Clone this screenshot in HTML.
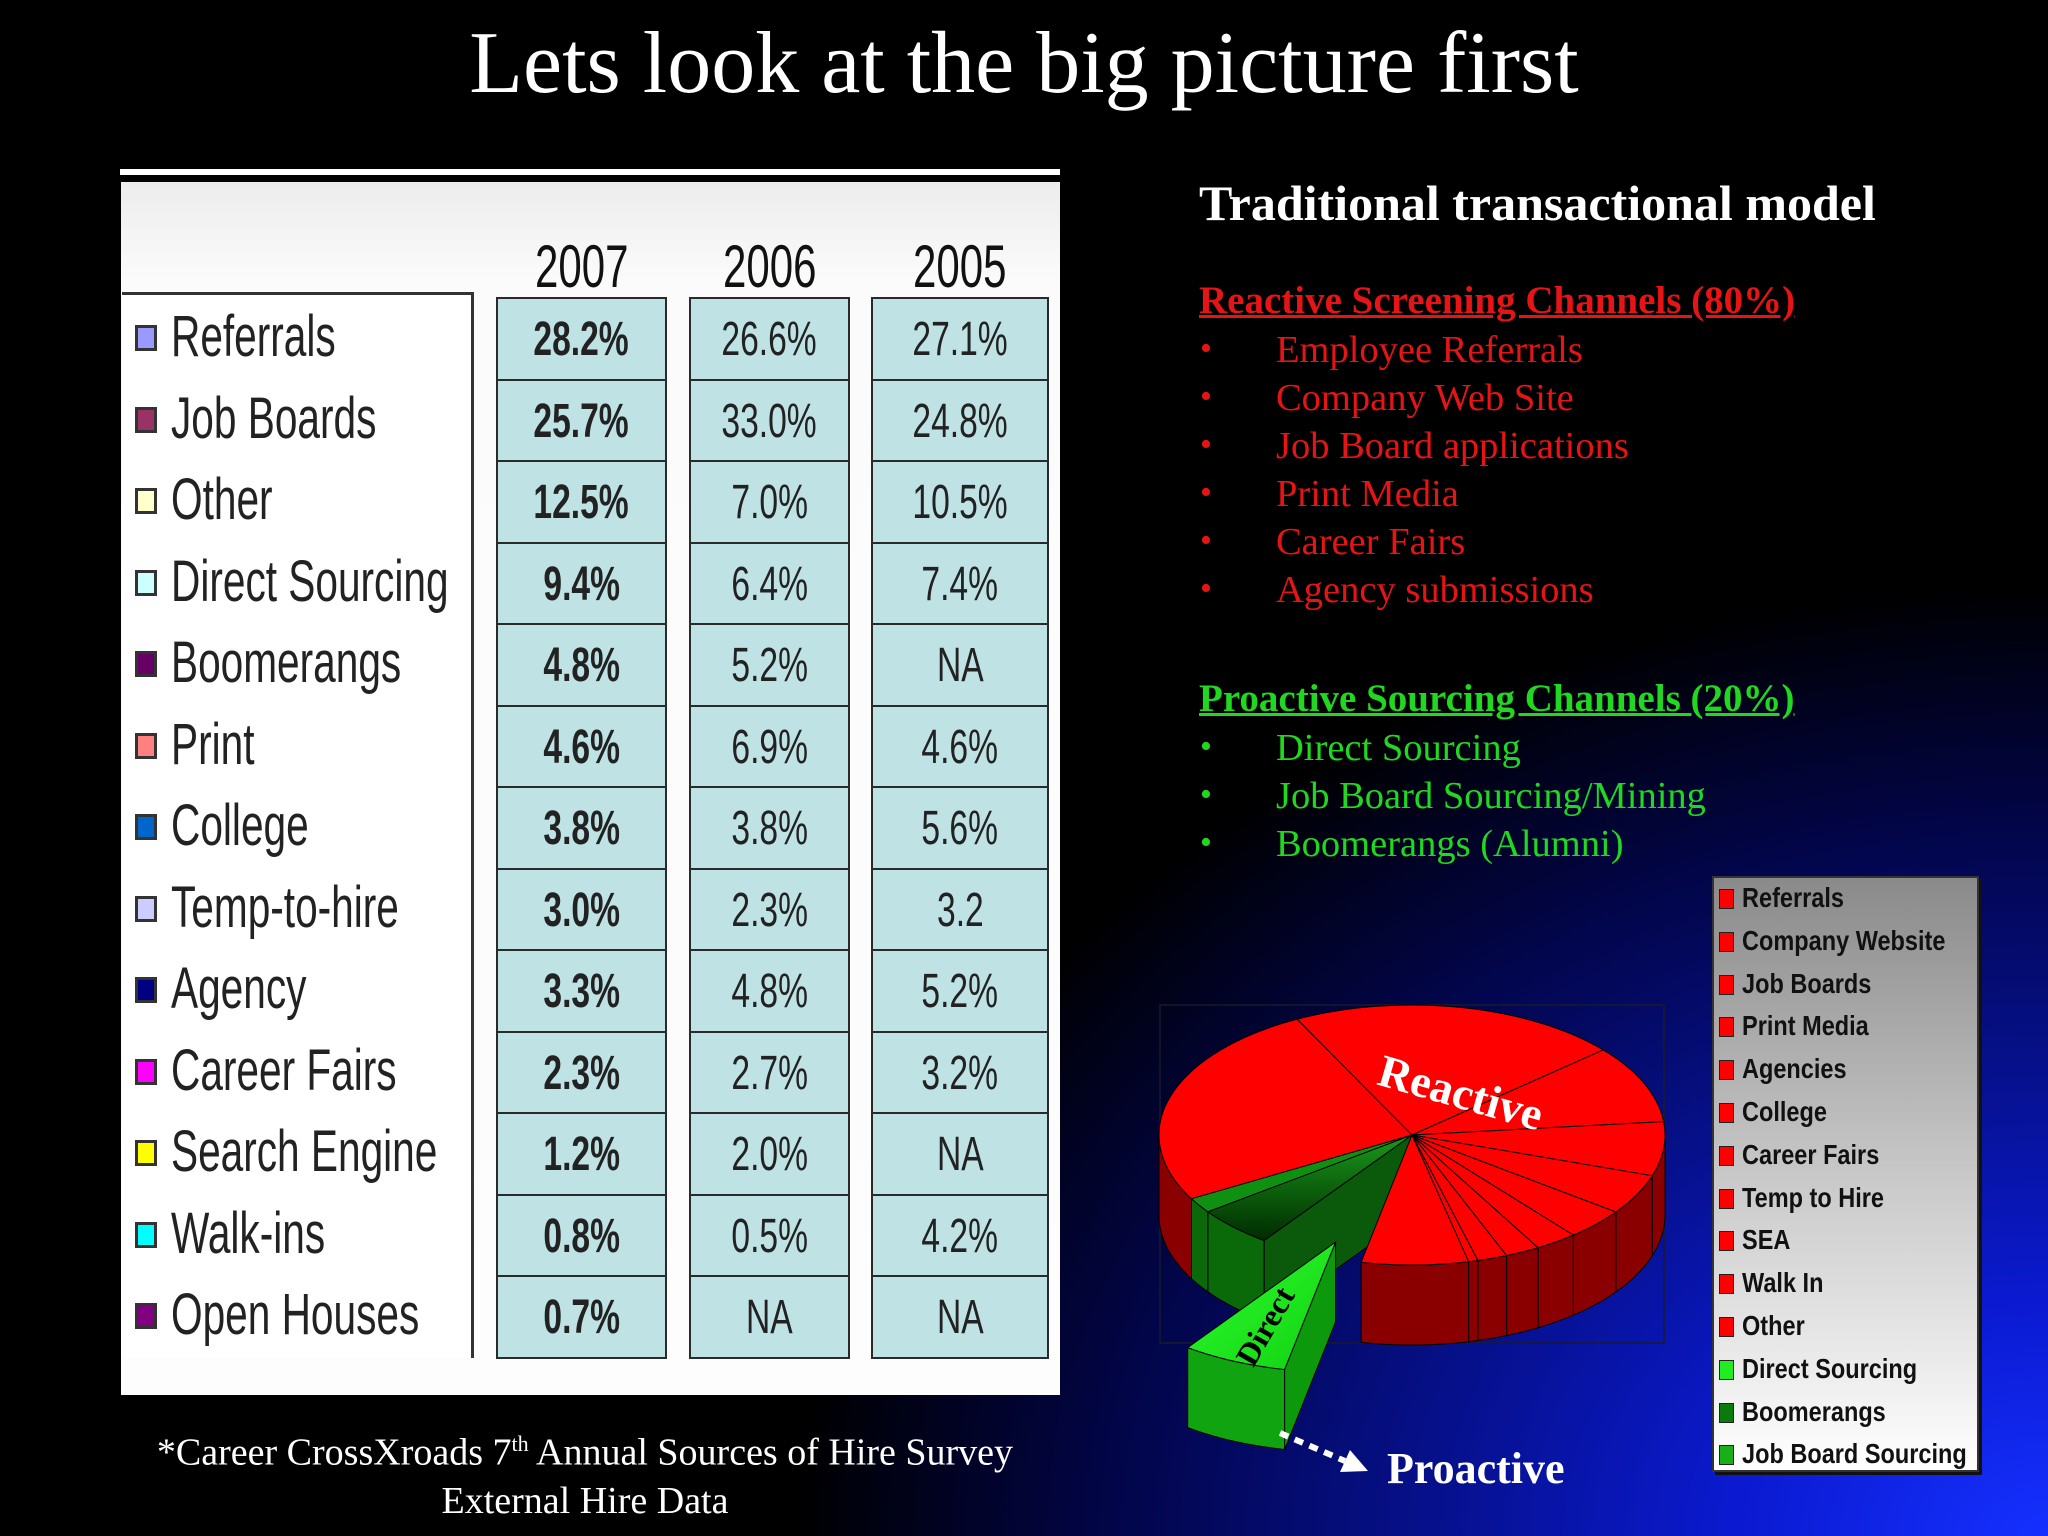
<!DOCTYPE html>
<html><head><meta charset="utf-8">
<style>
html,body{margin:0;padding:0;}
body{width:2048px;height:1536px;position:relative;overflow:hidden;background:#000;font-family:"Liberation Serif",serif;}
#bg{position:absolute;left:0;top:0;width:2048px;height:1536px;background:radial-gradient(ellipse 1250px 950px at 100% 100%,#1530ff 0%,#0b1ad0 25%,#06108a 50%,#020548 75%,#000 100%);}
.abs{position:absolute;}
.title{left:0;width:2048px;top:14px;text-align:center;color:#fff;font-size:88px;line-height:100px;}
.tbl-img{left:121px;top:182px;width:939px;height:1213px;background:linear-gradient(#ececec,#fbfbfb 8%,#fdfdfd);}
.topbar{left:120px;top:169px;width:940px;height:6px;background:#fff;}
.lbox{left:122px;top:292px;width:352px;height:1066px;border-top:3px solid #333;border-right:3px solid #333;background:#fff;box-sizing:border-box;}
.lab{font-family:"Liberation Sans",sans-serif;font-size:58px;color:#222;white-space:nowrap;transform:scaleX(0.7);transform-origin:0 50%;line-height:60px;}
.sw{width:22px;height:26px;border:3px solid #333;box-sizing:border-box;}
.cell{background:#bfe2e4;border:2px solid #2a2a2a;box-sizing:border-box;text-align:center;}
.cell span,.hdr span{display:inline-block;font-family:"Liberation Sans",sans-serif;transform:scaleX(0.7);}
.hdr{text-align:center;color:#111;}
.rt{color:#fff;font-weight:bold;font-size:50px;white-space:nowrap;}
.red{color:#e61414;}
.grn{color:#20d820;}
.h2{font-weight:bold;font-size:39px;text-decoration:underline;white-space:nowrap;}
.it{font-size:38.5px;white-space:nowrap;}
.bul{font-size:34px;}
.leg{left:1712px;top:876px;width:267px;height:596px;background:linear-gradient(#8a8a8a,#c8c8c8 50%,#fff);border:2px solid #333;box-sizing:border-box;box-shadow:3px 3px 0 #111;}
.li{font-family:"Liberation Sans",sans-serif;font-weight:bold;font-size:28px;color:#111;white-space:nowrap;line-height:32px;transform:scaleX(0.84);transform-origin:0 50%;}
.foot{left:60px;width:1050px;text-align:center;color:#fff;font-size:38px;line-height:48px;}
</style></head>
<body>
<div id="bg"></div>
<div class="abs title">Lets look at the big picture first</div>

<div class="abs topbar"></div>
<div class="abs tbl-img"></div>
<div class="abs lbox"></div>
<div id="table-layer"></div>

<div class="abs foot" style="top:1420px">*Career CrossXroads 7<sup style="font-size:22px">th</sup> Annual Sources of Hire Survey<br>External Hire Data</div>

<div class="abs rt" style="left:1199px;top:174px">Traditional transactional model</div>
<div class="abs h2 red" style="left:1199px;top:278px">Reactive Screening Channels (80%)</div>
<div id="bul-layer"></div>
<div class="abs h2 grn" style="left:1199px;top:676px">Proactive Sourcing Channels (20%)</div>

<svg class="abs" style="left:0;top:0" width="2048" height="1536" viewBox="0 0 2048 1536">
<defs>
<linearGradient id="gJ" x1="0" y1="0" x2="0" y2="1"><stop offset="0" stop-color="#1a9a1a"/><stop offset="1" stop-color="#002a00"/></linearGradient>
<linearGradient id="gD" x1="0" y1="0" x2="1" y2="1"><stop offset="0" stop-color="#30ff30"/><stop offset="1" stop-color="#10d010"/></linearGradient>
</defs>
<rect x="1160" y="1005" width="504" height="338" fill="none" stroke="#1a1a2a" stroke-width="1.5"/>
<g id="pie"></g>
<text x="1461" y="1108" transform="rotate(16 1461 1092)" text-anchor="middle" fill="#fff" font-family="Liberation Serif,serif" font-weight="bold" font-size="46">Reactive</text>
<text x="1265" y="1337" transform="rotate(-60 1265 1326)" text-anchor="middle" fill="#000" font-family="Liberation Serif,serif" font-weight="bold" font-size="32">Direct</text>
<line x1="1280" y1="1433" x2="1345" y2="1461" stroke="#fff" stroke-width="6" stroke-dasharray="9 7"/>
<polygon points="1368,1471 1340,1472 1350,1450" fill="#fff"/>
<text x="1387" y="1483" fill="#fff" font-family="Liberation Serif,serif" font-weight="bold" font-size="44">Proactive</text>
</svg>

<div class="abs leg"></div>
<div id="leg-layer"></div>

<script>
// ---- table data ----
const rowLabels=["Referrals","Job Boards","Other","Direct Sourcing","Boomerangs","Print","College","Temp-to-hire","Agency","Career Fairs","Search Engine","Walk-ins","Open Houses"];
const swatchColors=["#9999ff","#993366","#ffffcc","#ccffff","#660066","#ff8080","#0066cc","#ccccff","#000080","#ff00ff","#ffff00","#00ffff","#800080"];
const years=["2007","2006","2005"];
const v2007=["28.2%","25.7%","12.5%","9.4%","4.8%","4.6%","3.8%","3.0%","3.3%","2.3%","1.2%","0.8%","0.7%"];
const v2006=["26.6%","33.0%","7.0%","6.4%","5.2%","6.9%","3.8%","2.3%","4.8%","2.7%","2.0%","0.5%","NA"];
const v2005=["27.1%","24.8%","10.5%","7.4%","NA","4.6%","5.6%","3.2","5.2%","3.2%","NA","4.2%","NA"];
// ---- bullets ----
const reactiveItems=["Employee Referrals","Company Web Site","Job Board applications","Print Media","Career Fairs","Agency submissions"];
const proactiveItems=["Direct Sourcing","Job Board Sourcing/Mining","Boomerangs (Alumni)"];
// ---- pie data (clockwise from start angle) ----
const pieNames=["Direct Sourcing","Job Board Sourcing","Boomerangs","Referrals","Company Website","Job Boards","Print Media","Agencies","College","Career Fairs","Temp to Hire","SEA","Walk In","Other"];
const pieValues=[6.7,5.0,1.9,25.6,21.1,9.7,6.7,5.0,3.9,2.7,2.2,1.9,0.6,6.8];
const pieGroup=["g","g","g","r","r","r","r","r","r","r","r","r","r","r"];
const legendNames=["Referrals","Company Website","Job Boards","Print Media","Agencies","College","Career Fairs","Temp to Hire","SEA","Walk In","Other","Direct Sourcing","Boomerangs","Job Board Sourcing"];
const legendColors=["#ff0000","#ff0000","#ff0000","#ff0000","#ff0000","#ff0000","#ff0000","#ff0000","#ff0000","#ff0000","#ff0000","#20ee20","#0a7a0a","#18b018"];

const tl=document.getElementById('table-layer');
function mk(parent,cls,css,html){const d=document.createElement('div');d.className='abs '+cls;d.style.cssText=css;if(html!==undefined)d.innerHTML=html;parent.appendChild(d);return d;}
const colX=[496,689,871],colW=[171,161,178];
const rowTop=297,rowH=81.5;
years.forEach((y,j)=>{
  const h=mk(tl,'hdr',`left:${colX[j]}px;top:232px;width:${colW[j]}px;height:70px;font-size:60px;line-height:70px;`,`<span>${y}</span>`);
  
  
});
const cols=[v2007,v2006,v2005];
rowLabels.forEach((lab,i)=>{
  const top=rowTop+i*rowH;
  const s=mk(tl,'sw',`left:135px;top:${top+28}px;background:${swatchColors[i]};`);
  
  
  const t=mk(tl,'lab',`left:171px;top:${top+10}px;`,lab);
  
  
  cols.forEach((arr,j)=>{
    const c=mk(tl,'cell',`left:${colX[j]}px;top:${top}px;width:${colW[j]}px;height:${rowH+2}px;line-height:${rowH}px;font-size:48px;color:#222;${j===0?'font-weight:bold;':''}`,`<span>${arr[i]}</span>`);
    
    
  });
});

const bl=document.getElementById('bul-layer');
reactiveItems.forEach((t,i)=>{
  const y=330+i*48;
  const b=mk(bl,'bul red',`left:1200px;top:${y}px;`,'•');
  
  
  const d=mk(bl,'it red',`left:1276px;top:${y-2}px;`,t);
  
  
});
proactiveItems.forEach((t,i)=>{
  const y=728+i*48;
  const b=mk(bl,'bul grn',`left:1200px;top:${y}px;`,'•');
  
  
  const d=mk(bl,'it grn',`left:1276px;top:${y-2}px;`,t);
  
  
});

const ll=document.getElementById('leg-layer');
legendNames.forEach((n,i)=>{
  const y=899+i*42.8;
  const s=mk(ll,'',`left:1719px;top:${y-10}px;width:15px;height:20px;background:${legendColors[i]};border:1px solid #222;box-sizing:border-box;`);
  
  
  const t=mk(ll,'li',`left:1742px;top:${y-17}px;`,n);
  
  
});

// ---- pie ----
const NS='http://www.w3.org/2000/svg';
const g=document.getElementById('pie');
const cx=1412,cy=1135,rx=253,ry=130,depth=80,startDeg=101.6,explode=0.9;
const total=pieValues.reduce((a,b)=>a+b,0);
function P(a,dx,dy,z){return [cx+dx+rx*Math.cos(a),cy+dy+ry*Math.sin(a)+z];}
function add(tag,attrs,name){const e=document.createElementNS(NS,tag);for(const k in attrs)e.setAttribute(k,attrs[k]);
  
  
  return e;}
const slices=[];let acc=startDeg*Math.PI/180;
pieValues.forEach((v,i)=>{const a0=acc,a1=acc+v/total*2*Math.PI;acc=a1;
  const ex=i===0;const mid=(a0+a1)/2;
  slices.push({i,a0,a1,dx:ex?explode*rx*Math.cos(mid)+15:0,dy:ex?explode*ry*Math.sin(mid):0,ex});});
function sidePath(s){let out=[];
  [[0,Math.PI],[2*Math.PI,3*Math.PI]].forEach(([lo,hi])=>{const a=Math.max(s.a0,lo),b=Math.min(s.a1,hi);if(b>a){
    let pts=[];const n=24;for(let k=0;k<=n;k++){pts.push(P(a+(b-a)*k/n,s.dx,s.dy,0));}
    for(let k=n;k>=0;k--){pts.push(P(a+(b-a)*k/n,s.dx,s.dy,depth));}
    out.push('M'+pts.map(p=>p[0].toFixed(1)+','+p[1].toFixed(1)).join('L')+'Z');}});
  return out.join(' ');}
function topPath(s){const p0=P(s.a0,s.dx,s.dy,0),p1=P(s.a1,s.dx,s.dy,0);const large=(s.a1-s.a0)>Math.PI?1:0;
  return `M${cx+s.dx},${cy+s.dy}L${p0[0]},${p0[1]}A${rx},${ry} 0 ${large} 1 ${p1[0]},${p1[1]}Z`;}
function radial(s,a,fill,name){const c=[cx+s.dx,cy+s.dy];const p=P(a,s.dx,s.dy,0);
  g.appendChild(add('path',{d:`M${c[0]},${c[1]}L${p[0]},${p[1]}L${p[0]},${p[1]+depth}L${c[0]},${c[1]+depth}Z`,fill:fill,stroke:'#000','stroke-width':1},name));}
const sideCol=i=>pieGroup[i]==='r'?'#8a0000':(i===0?'#10a510':'#0a6a0a');
const topCol=i=>pieGroup[i]==='r'?'#ff0000':(i===0?'url(#gD)':(i===1?'url(#gJ)':'#109010'));
const main=slices.filter(s=>!s.ex),ex=slices.filter(s=>s.ex);
radial(main[0],main[0].a0,'#0b5a0b','inner-face');
main.forEach(s=>{const d=sidePath(s);if(d)g.appendChild(add('path',{d,fill:sideCol(s.i),stroke:'#000','stroke-width':1},'side-'+pieNames[s.i].toLowerCase().replace(/ /g,'-')));});
main.forEach(s=>g.appendChild(add('path',{d:topPath(s),fill:topCol(s.i),stroke:'#000','stroke-width':1},'slice-'+pieNames[s.i].toLowerCase().replace(/ /g,'-'))));
ex.forEach(s=>{const d=sidePath(s);if(d)g.appendChild(add('path',{d,fill:sideCol(s.i),stroke:'#000','stroke-width':1},'side-direct-sourcing'));
  radial(s,s.a0,'#0c9a0c','direct-face');
  g.appendChild(add('path',{d:topPath(s),fill:topCol(s.i),stroke:'#000','stroke-width':1},'slice-direct-sourcing'));});
</script>
</body></html>
